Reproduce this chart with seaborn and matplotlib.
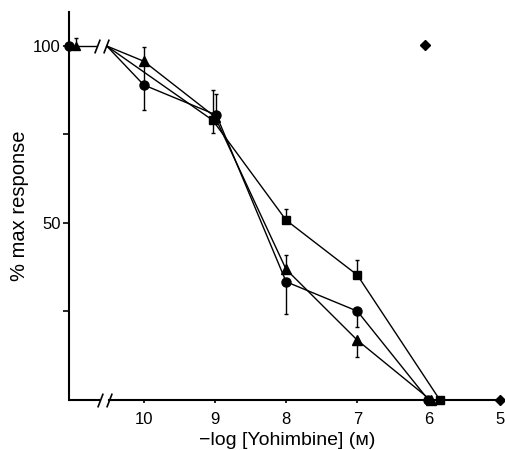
import matplotlib
matplotlib.use('Agg')
import numpy as np
import pandas as pd
import seaborn as sns
import matplotlib.pyplot as plt

# control values (left of the axis break) and the shared starting point after the break
ctrl_circle = (11.05, 100.0)
ctrl_triangle = (10.95, 100.0, 2.3)
start_x = 10.52
start_y = 100.0

# -log [Yohimbine] series: x, y, lower err, upper err
circ_x = [10.0, 8.98, 8.0, 7.0, 6.0]
circ_y = [89.0, 80.5, 33.4, 25.1, 0.0]
circ_lo = [7.0, 0.0, 9.0, 4.4, 0.0]
circ_hi = [7.0, 6.0, 0.0, 0.0, 0.0]

tri_x = [10.0, 9.0, 8.0, 7.0, 5.97]
tri_y = [95.7, 80.0, 36.9, 16.9, 0.0]
tri_lo = [0.0, 0.0, 0.0, 4.7, 0.0]
tri_hi = [4.1, 0.0, 4.1, 0.0, 0.0]

sq_x = [9.03, 8.0, 7.0, 5.84]
sq_y = [79.0, 50.8, 35.3, 0.0]
sq_lo = [3.6, 0.0, 0.0, 0.0]
sq_hi = [8.7, 3.1, 4.2, 0.0]

dia_x = [6.05, 5.0]
dia_y = [100.4, 0.0]

sns.set_style('ticks')
plt.rcParams['font.family'] = ['Liberation Sans', 'DejaVu Sans']
plt.rcParams['font.size'] = 12
for k in ['text.color', 'axes.labelcolor', 'xtick.color', 'ytick.color', 'axes.edgecolor']:
    plt.rcParams[k] = 'black'

fig = plt.figure(figsize=(5.06, 4.5), dpi=100)
ax = fig.add_axes([69 / 506, 50 / 450, 0.861, 0.8622])

series = [
    ('circle', circ_x, circ_y, circ_lo, circ_hi, 'o', 6.5),
    ('triangle', tri_x, tri_y, tri_lo, tri_hi, '^', 7),
    ('square', sq_x, sq_y, sq_lo, sq_hi, 's', 6),
]

for name, xs, ys, lo, hi, mk, ms in series:
    df = pd.DataFrame({'x': [start_x] + xs, 'y': [start_y] + ys})
    sns.lineplot(data=df, x='x', y='y', sort=False, estimator=None,
                 color='black', lw=1.0, ax=ax)
    ax.errorbar(xs, ys, yerr=[lo, hi], fmt='none', ecolor='black',
                elinewidth=1.0, capsize=1.5, capthick=1.0, clip_on=False)
    ax.plot(xs, ys, linestyle='none', marker=mk, ms=ms, color='black',
            clip_on=False, zorder=5)

# control points and the line up to the break
ax.plot([ctrl_circle[0], 10.66], [ctrl_circle[1], ctrl_circle[1]],
        color='black', lw=1.0, clip_on=False)
ax.plot([ctrl_circle[0]], [ctrl_circle[1]], 'o', ms=6.5, color='black',
        clip_on=False, zorder=5)
ax.errorbar([ctrl_triangle[0]], [ctrl_triangle[1]], yerr=[[0], [ctrl_triangle[2]]],
            fmt='^', ms=5.5, color='black', elinewidth=1.0, capsize=1.5,
            clip_on=False, zorder=5)

ax.plot(dia_x, dia_y, linestyle='none', marker='D', ms=5.5, color='black',
        clip_on=False, zorder=5)

# axis break marks
slash = [(-1, -2.6), (1, 2.6)]
ax.plot([10.62, 10.49], [0, 0], linestyle='none', marker=slash, ms=10,
        mec='black', mew=1.2, color='black', clip_on=False)
ax.plot([10.66, 10.53], [100, 100], linestyle='none', marker=slash, ms=10,
        mec='black', mew=1.2, color='black', clip_on=False)

ax.set_xlim(11.05, 4.93)
ax.set_ylim(0, 109.6)

sns.despine(ax=ax)
ax.spines['left'].set_linewidth(1.5)
ax.spines['bottom'].set_linewidth(1.5)
ax.spines['bottom'].set_bounds(10.49, 5.0)
ax.plot([11.05, 10.62], [0, 0], color='black', lw=1.5, clip_on=False,
        solid_capstyle='butt')

ax.set_xticks([10, 9, 8, 7, 6, 5])
ax.set_xticklabels(['10', '9', '8', '7', '6', '5'])
ax.set_yticks([50, 100])
ax.set_yticklabels(['50', '100'])
ax.set_yticks([25, 75], minor=True)
ax.tick_params(axis='y', which='both', direction='out', length=4, width=1.2, pad=2)
ax.tick_params(axis='x', direction='out', length=2.5, width=1.2, pad=6)

ax.set_xlabel('\u2212log [Yohimbine] (\u1d0d)', fontsize=14, labelpad=3.5)
ax.set_ylabel('% max response', fontsize=14.5, labelpad=3)

fig.savefig('out.png', dpi=100)
